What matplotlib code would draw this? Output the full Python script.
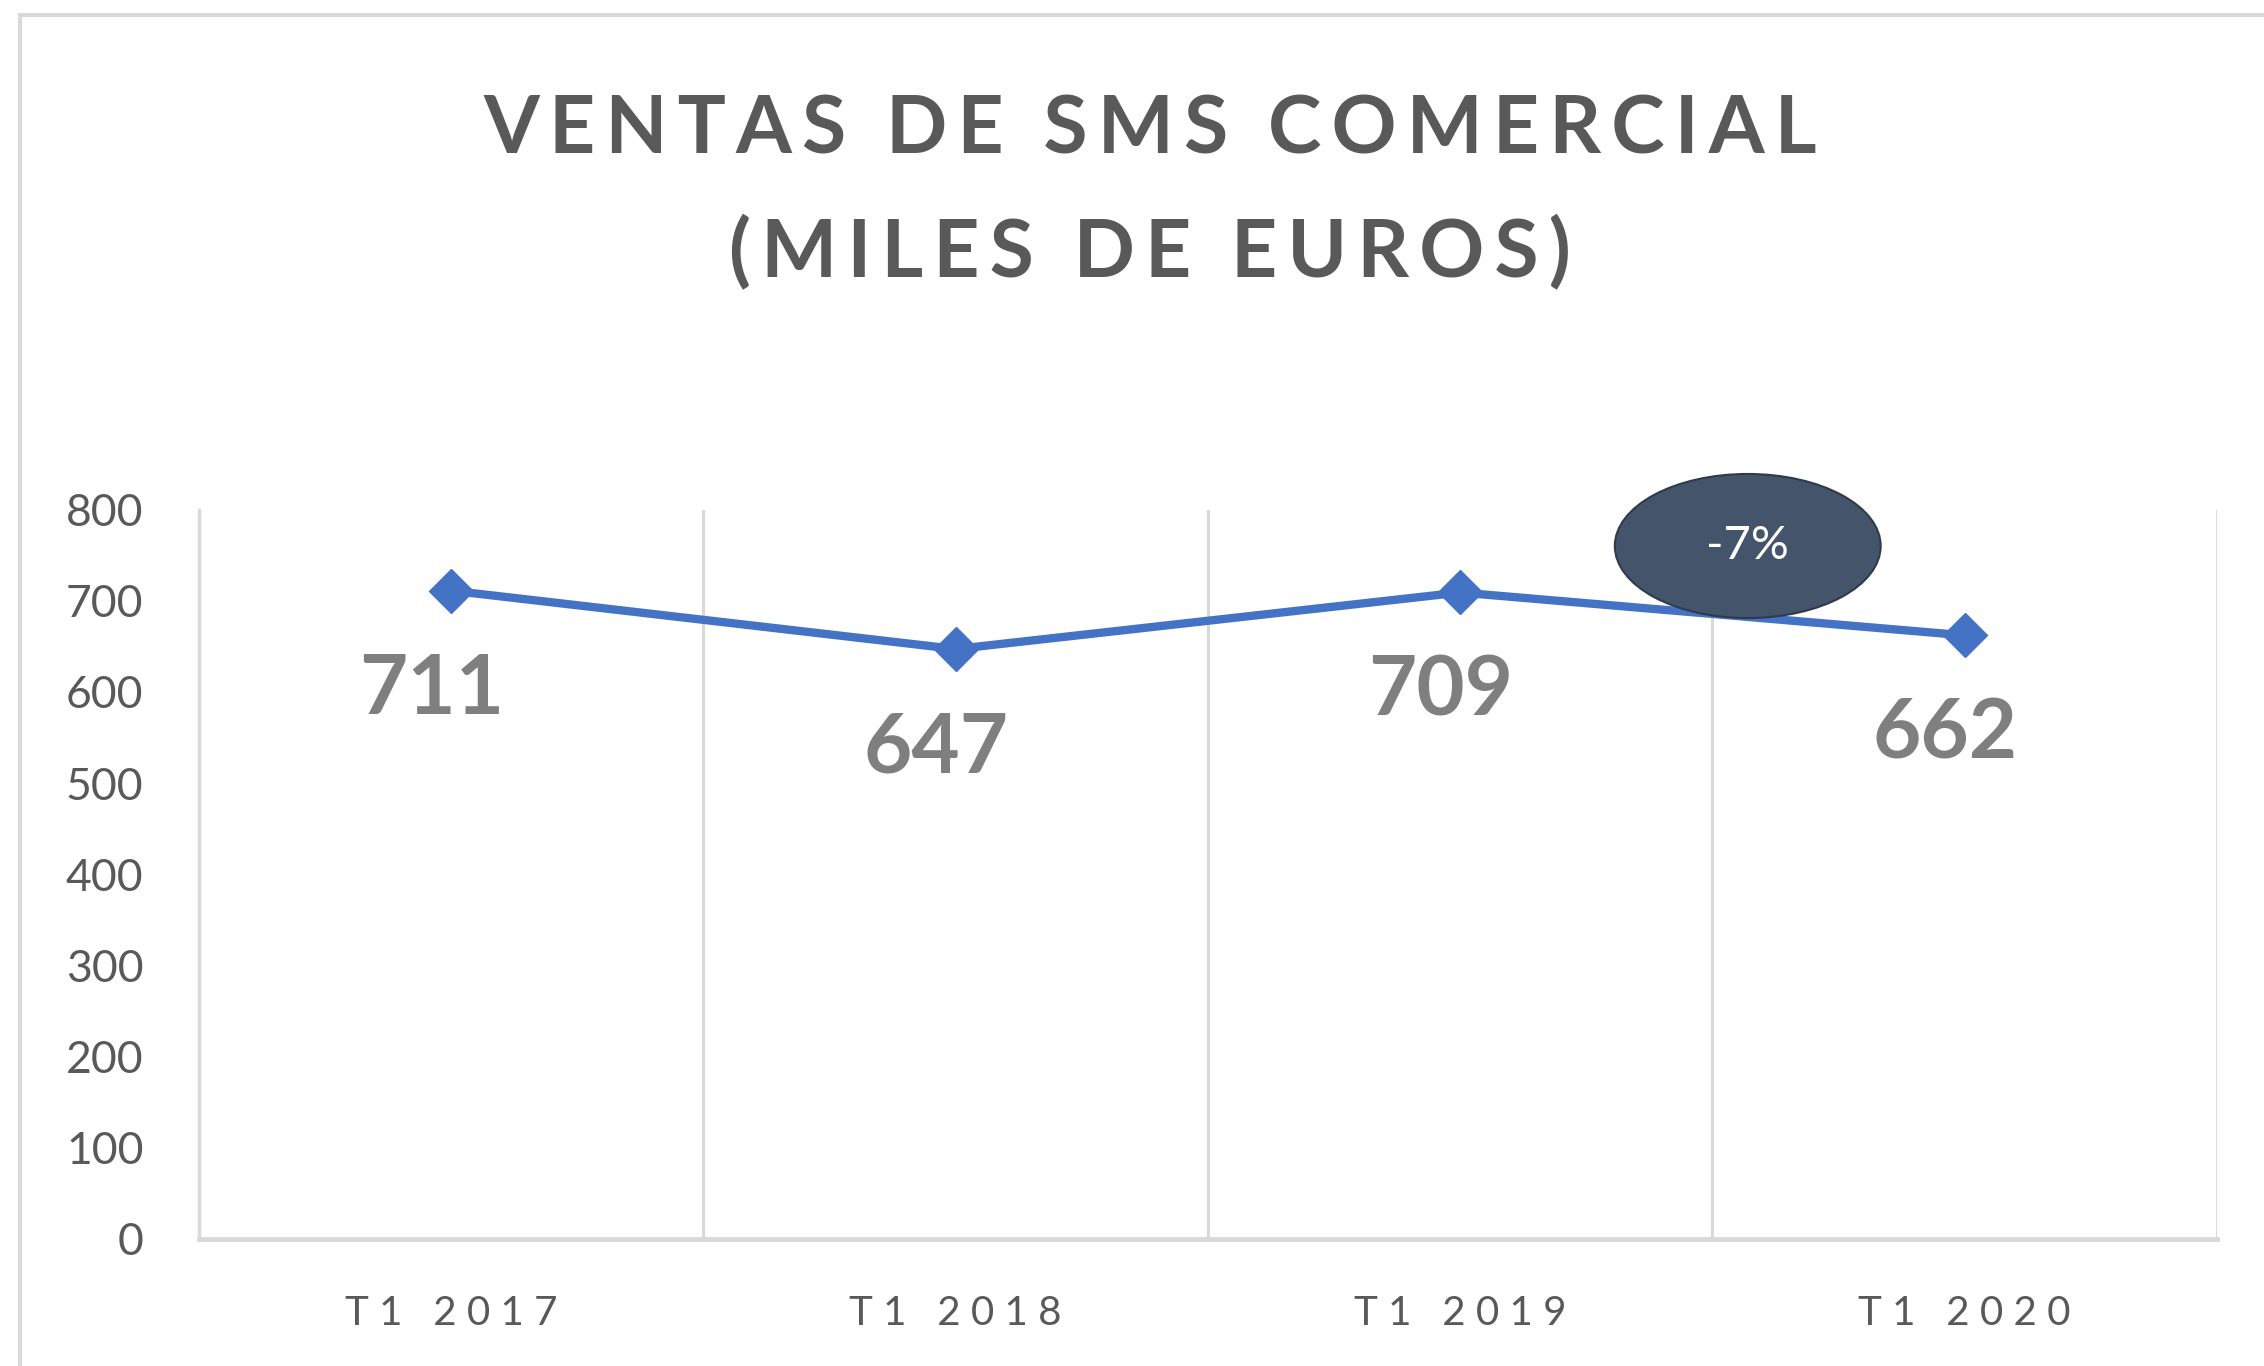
import matplotlib.pyplot as plt
from matplotlib.patches import Ellipse, Rectangle

periods = ["T1 2017", "T1 2018", "T1 2019", "T1 2020"]
sales = [711, 647, 709, 662]
y_ticks = [0, 100, 200, 300, 400, 500, 600, 700, 800]
change_label = "-7%"

GRAY = "#595959"
LIGHT = "#D9D9D9"
BLUE = "#4472C4"
FONT = ["Lato", "DejaVu Sans"]


def spaced(s, gap="\u200a"):
    # mimic the wide letter spacing of the original
    return gap.join(s)


def main():
    plt.rcParams["font.family"] = FONT
    fig = plt.figure(figsize=(22.64, 13.66), dpi=100)
    ax = fig.add_axes([0.0879, 0.093, 0.8913, 0.534])

    x = list(range(len(periods)))
    ax.plot(x, sales, color=BLUE, lw=6, marker="D", ms=22, zorder=3)

    for xi, v in zip(x, sales):
        ax.annotate(str(v), (xi, v), xytext=(-14, -72), textcoords="offset points",
                    ha="center", va="center", fontsize=60, fontweight="bold",
                    color="#7F7F7F")

    ax.set_xlim(-0.5, len(periods) - 0.5)
    ax.set_ylim(0, 800)
    ax.set_yticks(y_ticks)
    ax.set_yticklabels([str(t) for t in y_ticks])
    ax.set_xticks(x)
    ax.set_xticklabels([spaced(p, " ") for p in periods], family=FONT)
    ax.tick_params(axis="y", length=0, pad=40, labelsize=32, labelcolor=GRAY)
    ax.tick_params(axis="x", length=0, pad=40, labelsize=29, labelcolor=GRAY)

    for b in [i + 0.5 for i in x]:
        ax.axvline(b, color=LIGHT, lw=2.2, zorder=1)

    for s in ["top", "right"]:
        ax.spines[s].set_visible(False)
    ax.spines["left"].set_color(LIGHT)
    ax.spines["left"].set_linewidth(2.5)
    ax.spines["bottom"].set_color(LIGHT)
    ax.spines["bottom"].set_linewidth(3.5)

    # change bubble between the last two periods
    ell = Ellipse((2.57, 760), 0.527, 158, facecolor="#44546A",
                  edgecolor="#2F3B4C", lw=1.5, zorder=4, clip_on=False)
    ax.add_patch(ell)
    ax.text(2.57, 760, change_label, ha="center", va="center", fontsize=34,
            color="white", zorder=5)

    fig.text(0.508, 1 - 130 / 1366, spaced("VENTAS DE SMS COMERCIAL", "\u2009"),
             ha="center", va="center", fontsize=58, fontweight="bold", color=GRAY)
    fig.text(0.508, 1 - 253 / 1366, spaced("(MILES DE EUROS)", "\u2009"),
             ha="center", va="center", fontsize=58, fontweight="bold", color=GRAY)

    # chart frame
    fig.add_artist(Rectangle((20 / 2264, -0.1), 1.2, 1 - 15 / 1366 + 0.1,
                             transform=fig.transFigure, fill=False,
                             edgecolor=LIGHT, lw=3))

    fig.savefig("out.png", dpi=100)


if __name__ == '__main__':
    main()
